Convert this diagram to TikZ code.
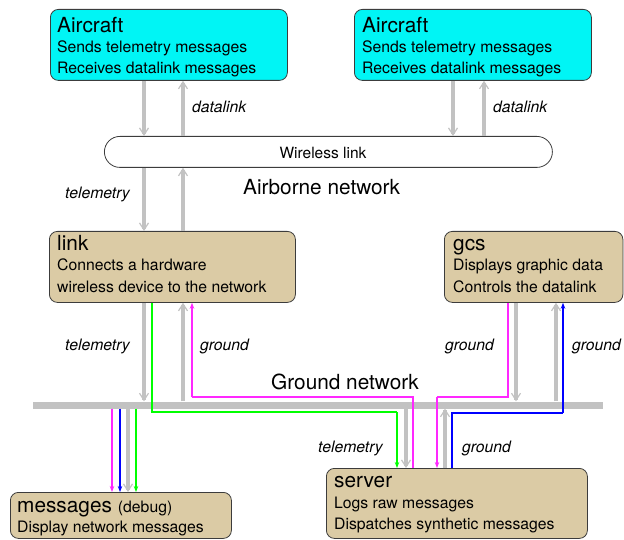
\documentclass[tikz,border=0pt]{standalone}
\usepackage{fontspec}
\setmainfont{TeX Gyre Heros}
\usetikzlibrary{arrows.meta}
\definecolor{tanbox}{RGB}{219,203,165}
\definecolor{aquabox}{RGB}{0,245,245}
\definecolor{flow}{RGB}{194,194,194}
\definecolor{edge}{RGB}{60,60,60}
\definecolor{routeM}{RGB}{255,40,255}
\definecolor{routeB}{RGB}{0,0,255}
\definecolor{routeG}{RGB}{0,255,0}
\begin{document}
\begin{tikzpicture}[x=1pt,y=-1pt,
 box/.style={draw=edge, line width=0.8pt, rounded corners=8pt, anchor=north west, inner sep=0pt},
 titletxt/.style={anchor=base west, inner sep=0pt, font=\fontsize{20.8}{24}\selectfont},
 bodytxt/.style={anchor=base west, inner sep=0pt, font=\fontsize{15.75}{18}\selectfont},
 lab/.style={anchor=base west, inner sep=0pt, font=\fontsize{15.75}{18}\selectfont\itshape},
 bigtxt/.style={anchor=base west, inner sep=0pt, font=\fontsize{20.8}{24}\selectfont},
 flowarrow/.style={draw=flow, line width=4pt, -{Straight Barb[length=7pt,width=9pt,line width=1.2pt]}},
 msg/.style={line width=1.1pt, -{Stealth[length=6pt,width=4.5pt]}},
 seg/.style={line width=1.1pt},
]
\useasboundingbox (0,0) rectangle (624,540);

% boxes
\node[box, fill=aquabox, minimum width=237, minimum height=71] (ac1) at (50,9) {};
\node[box, fill=aquabox, minimum width=237, minimum height=71] (ac2) at (354,9) {};
\node[draw=edge, line width=0.8pt, fill=white, rounded corners=15.5pt, minimum width=448, minimum height=31, inner sep=0pt, anchor=north west] (wl) at (104,136) {};
\node[box, fill=tanbox, minimum width=246, minimum height=71] (lk) at (49,231) {};
\node[box, fill=tanbox, minimum width=178.5, minimum height=71] (gc) at (444,231) {};
\node[box, fill=tanbox, minimum width=221, minimum height=46] (ms) at (10,492) {};
\node[box, fill=tanbox, minimum width=261, minimum height=70] (sv) at (326,468) {};
\node[fill=flow, minimum width=570, minimum height=7, inner sep=0pt, anchor=west] (gn) at (33,405) {};

% box texts
\node[titletxt] (ac1t) at (57,33) {Aircraft};
\node[bodytxt] (ac1a) at (57,53) {Sends telemetry messages};
\node[bodytxt] (ac1b) at (57,74) {Receives datalink messages};
\node[titletxt] (ac2t) at (362,33) {Aircraft};
\node[bodytxt] (ac2a) at (362,53) {Sends telemetry messages};
\node[bodytxt] (ac2b) at (362,74) {Receives datalink messages};
\node[anchor=base, inner sep=0pt, font=\fontsize{15.5}{18}\selectfont] (wlt) at (323,159) {Wireless link};
\node[titletxt] (lkt) at (57,251) {link};
\node[bodytxt] (lka) at (57,270) {Connects a hardware};
\node[bodytxt] (lkb) at (57,292) {wireless device to the network};
\node[titletxt] (gct) at (453,251) {gcs};
\node[bodytxt] (gca) at (453,270) {Displays graphic data};
\node[bodytxt] (gcb) at (453,292) {Controls the datalink};
\node[titletxt] (mst) at (17,512) {messages\hspace{6pt}{\fontsize{15.75}{18}\selectfont(debug)}};
\node[bodytxt] (msa) at (17,532) {Display network messages};
\node[titletxt] (svt) at (334,487) {server};
\node[bodytxt] (sva) at (334,508) {Logs raw messages};
\node[bodytxt] (svb) at (334,529) {Dispatches synthetic messages};

% network labels
\node[bigtxt] (abn) at (243,195) {Airborne network};
\node[bigtxt] (gnn) at (271,389) {Ground network};

% flow labels
\node[lab] (l1) at (192,113) {datalink};
\node[lab] (l2) at (493,113) {datalink};
\node[lab] (l3) at (65,199) {telemetry};
\node[lab] (l4) at (65,350) {telemetry};
\node[lab] (l5) at (200,350) {ground};
\node[lab] (l6) at (445,350) {ground};
\node[lab] (l7) at (572,350) {ground};
\node[lab] (l8) at (318,452) {telemetry};
\node[lab] (l9) at (462,452) {ground};

% gray flow arrows
\draw[flowarrow] (ac1.south -| 144,0) -- (wl.north -| 144,0);
\draw[flowarrow] (wl.north -| 183,0) -- (ac1.south -| 183,0);
\draw[flowarrow] (ac2.south -| 453,0) -- (wl.north -| 453,0);
\draw[flowarrow] (wl.north -| 484,0) -- (ac2.south -| 484,0);
\draw[flowarrow] (wl.south -| 144,0) -- (lk.north -| 144,0);
\draw[flowarrow] (lk.north -| 183,0) -- (wl.south -| 183,0);
\draw[flowarrow] (lk.south -| 144,0) -- (gn.north -| 144,0);
\draw[flowarrow] (gn.north -| 183,0) -- (lk.south -| 183,0);
\draw[flowarrow] (gc.south -| 516,0) -- (gn.north -| 516,0);
\draw[flowarrow] (gn.north -| 556,0) -- (gc.south -| 556,0);
\draw[flowarrow] (gn.south -| 406,0) -- (sv.north -| 406,0);
\draw[flowarrow] (sv.north -| 445,0) -- (gn.south -| 445,0);
\draw[flowarrow] (gn.south -| 128,0) -- (ms.north -| 128,0);

% coloured message routes (bend points)
\coordinate (g1) at (152,412);
\coordinate (g2) at (397,412);
\coordinate (m1) at (508,397);
\coordinate (m2) at (437,397);
\coordinate (m3) at (413,397);
\coordinate (m4) at (192,397);
\coordinate (b1) at (452,413);
\coordinate (b2) at (563,413);

\draw[seg, draw=routeG, line join=miter] (lk.south -| g1) -- (g1) -- (g2);
\draw[msg, draw=routeG] (g2) -- (sv.north -| g2);
\draw[seg, draw=routeM, line join=miter] (gc.south -| m1) -- (m1) -- (m2);
\draw[msg, draw=routeM] (m2) -- (sv.north -| m2);
\draw[seg, draw=routeM, line join=miter] (sv.north -| m3) -- (m3) -- (m4);
\draw[msg, draw=routeM] (m4) -- (lk.south -| m4);
\draw[seg, draw=routeB, line join=miter] (sv.north -| b1) -- (b1) -- (b2);
\draw[msg, draw=routeB] (b2) -- (gc.south -| b2);
\draw[msg, draw=routeM] (gn.south -| 112,0) -- (ms.north -| 112,0);
\draw[msg, draw=routeB] (gn.south -| 120,0) -- (ms.north -| 120,0);
\draw[msg, draw=routeG] (gn.south -| 136,0) -- (ms.north -| 136,0);
\end{tikzpicture}
\end{document}
